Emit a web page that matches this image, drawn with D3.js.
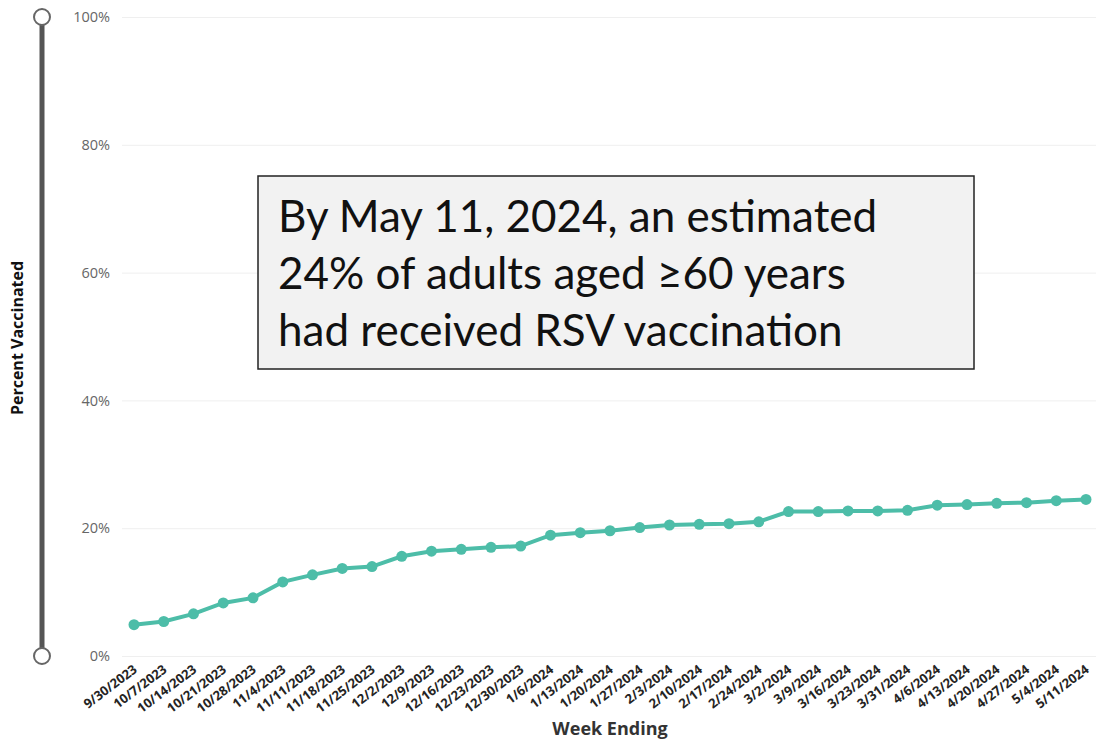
<!DOCTYPE html>
<html>
<head>
<meta charset="utf-8">
<script src="https://cdn.jsdelivr.net/npm/d3@7"></script>
<style>
  body { margin: 0; background: #fff; }
  svg { display: block; }
</style>
</head>
<body>
<div id="chart"></div>
<script>
// Week ending dates and cumulative percent vaccinated
const weeks = ["9/30/2023", "10/7/2023", "10/14/2023", "10/21/2023", "10/28/2023", "11/4/2023",
  "11/11/2023", "11/18/2023", "11/25/2023", "12/2/2023", "12/9/2023", "12/16/2023", "12/23/2023",
  "12/30/2023", "1/6/2024", "1/13/2024", "1/20/2024", "1/27/2024", "2/3/2024", "2/10/2024",
  "2/17/2024", "2/24/2024", "3/2/2024", "3/9/2024", "3/16/2024", "3/23/2024", "3/31/2024",
  "4/6/2024", "4/13/2024", "4/20/2024", "4/27/2024", "5/4/2024", "5/11/2024"];
const pctVaccinated = [4.9, 5.4, 6.6, 8.3, 9.1, 11.6, 12.7, 13.7, 14.0, 15.6, 16.4, 16.7, 17.0,
  17.2, 18.9, 19.3, 19.6, 20.1, 20.5, 20.6, 20.7, 21.0, 22.6, 22.6, 22.7, 22.7, 22.8,
  23.6, 23.7, 23.9, 24.0, 24.3, 24.5];
const yTicks = [0, 20, 40, 60, 80, 100];
const noteLines = ["By May 11, 2024, an estimated", "24% of adults aged \u226560 years", "had received RSV vaccination"];

const W = 1096, H = 740;
const svg = d3.select("#chart").append("svg")
  .attr("width", W)
  .attr("height", H);

// Scales
const x = d3.scalePoint()
  .domain(weeks)
  .range([134, 1086]);

const y = d3.scaleLinear()
  .domain([0, 100])
  .range([656, 17]);

// Gridlines + y labels
const yAxis = svg.append("g")
  .attr("transform", "translate(122,0)")
  .call(d3.axisLeft(y).tickValues(yTicks).tickFormat(d => d + "%").tickSize(-974).tickPadding(12));
yAxis.select(".domain").remove();
yAxis.selectAll("line").attr("stroke", "#efefef").attr("stroke-width", 1);
yAxis.selectAll("text")
  .attr("fill", "#666")
  .style("font-family", "'Open Sans', sans-serif")
  .style("font-size", "14.5px");

// x axis labels, rotated
const xAxis = svg.append("g")
  .attr("transform", "translate(0,660)")
  .call(d3.axisBottom(x).tickSize(0).tickPadding(0));
xAxis.select(".domain").remove();
xAxis.selectAll("text")
  .attr("fill", "#252423")
  .style("font-family", "'Open Sans', sans-serif")
  .style("font-size", "13px")
  .style("font-weight", "bold")
  .style("text-anchor", "end")
  .attr("dx", "-0.3em")
  .attr("dy", "0.85em")
  .attr("transform", "rotate(-37)");

// Axis titles
svg.append("text")
  .attr("x", 610)
  .attr("y", 735)
  .attr("text-anchor", "middle")
  .attr("fill", "#333")
  .style("font-family", "'Open Sans', sans-serif")
  .style("font-size", "18px")
  .style("font-weight", "bold")
  .text("Week Ending");

svg.append("text")
  .attr("transform", "translate(23,338) rotate(-90)")
  .attr("text-anchor", "middle")
  .attr("fill", "#111")
  .style("font-family", "'Open Sans', sans-serif")
  .style("font-size", "16px")
  .style("font-weight", "bold")
  .text("Percent Vaccinated");

// Slider on the left
svg.append("line")
  .attr("x1", 42).attr("x2", 42)
  .attr("y1", y(100)).attr("y2", y(0))
  .attr("stroke", "#555")
  .attr("stroke-width", 5);
svg.selectAll(".knob")
  .data([100, 0])
  .enter().append("circle")
  .attr("class", "knob")
  .attr("cx", 42)
  .attr("cy", d => y(d))
  .attr("r", 8)
  .attr("fill", "#fff")
  .attr("stroke", "#666")
  .attr("stroke-width", 2);

// Line + markers
const teal = "#4dbda8";
const line = d3.line()
  .x((d, i) => x(weeks[i]))
  .y(d => y(d));

svg.append("path")
  .datum(pctVaccinated)
  .attr("d", line)
  .attr("fill", "none")
  .attr("stroke", teal)
  .attr("stroke-width", 4);

svg.selectAll(".dot")
  .data(pctVaccinated)
  .enter().append("circle")
  .attr("class", "dot")
  .attr("cx", (d, i) => x(weeks[i]))
  .attr("cy", d => y(d))
  .attr("r", 5.5)
  .attr("fill", teal);

// Annotation box
svg.append("rect")
  .attr("x", 258).attr("y", 176)
  .attr("width", 716).attr("height", 193)
  .attr("fill", "#f2f2f2")
  .attr("stroke", "#222")
  .attr("stroke-width", 1.5);

svg.selectAll(".note")
  .data(noteLines)
  .enter().append("text")
  .attr("class", "note")
  .attr("x", 278)
  .attr("y", (d, i) => 232 + i * 57)
  .attr("fill", "#111")
  .style("font-family", "Lato, sans-serif")
  .style("font-size", "44px")
  .text(d => d);
</script>
</body>
</html>
